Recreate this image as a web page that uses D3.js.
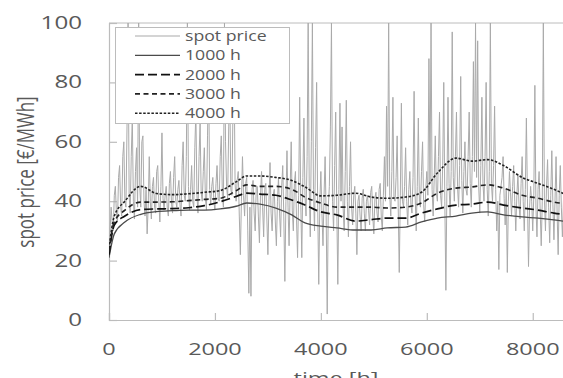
<!DOCTYPE html>
<html>
<head>
<meta charset="utf-8">
<script src="https://cdn.jsdelivr.net/npm/d3@7"></script>
<style>
  body { margin: 0; background: #fff; }
  svg { display: block; font-family: "Open Sans", sans-serif; }
</style>
</head>
<body>
<svg id="chart" width="563" height="378"></svg>
<script>
// hourly spot price, read every 20 h off the picture
const spotStep = 20;
const spotPrice = [
  22, 30, 38, 33, 30, 42, 45, 36, 33, 48, 52, 38, 35, 55, 60, 40, 38, 65, 100, 42,
  36, 55, 68, 40, 34, 50, 58, 38, 100, 45, 38, 60, 62, 40, 35, 44, 29, 38, 55, 40,
  34, 45, 48, 38, 36, 50, 52, 40, 33, 45, 63, 41, 37, 42, 45, 38, 35, 46, 50, 39,
  36, 48, 55, 40, 38, 44, 47, 39, 35, 52, 60, 42, 40, 55, 100, 45, 37, 44, 52, 40,
  38, 58, 70, 42, 36, 55, 66, 43, 40, 50, 58, 41, 37, 62, 85, 44, 39, 45, 48, 40,
  37, 46, 52, 41, 40, 55, 62, 42, 38, 100, 60, 45, 41, 65, 78, 44, 42, 70, 90, 46,
  40, 47, 50, 35, 22, 40, 55, 42, 35, 46, 48, 30, 9, 38, 8, 44, 47, 36, 30, 45,
  45, 35, 26, 42, 50, 38, 28, 44, 46, 34, 22, 40, 53, 36, 30, 42, 44, 33, 25, 40,
  48, 36, 28, 45, 52, 35, 13, 40, 57, 38, 25, 44, 60, 37, 30, 46, 50, 34, 21, 42,
  75, 40, 21, 48, 68, 42, 35, 55, 100, 45, 28, 60, 100, 44, 30, 58, 80, 38, 12, 40,
  50, 36, 25, 42, 55, 35, 2, 38, 45, 65, 100, 40, 30, 52, 70, 38, 12, 44, 73, 40,
  65, 38, 30, 50, 74, 40, 28, 45, 60, 38, 32, 42, 45, 36, 22, 40, 42, 35, 30, 41,
  44, 36, 30, 40, 42, 37, 32, 43, 45, 35, 29, 41, 43, 36, 33, 44, 46, 35, 30, 42,
  55, 40, 72, 45, 100, 42, 35, 50, 75, 41, 40, 48, 62, 38, 16, 42, 73, 40, 38, 45,
  58, 40, 32, 44, 50, 39, 36, 48, 77, 42, 30, 45, 68, 40, 38, 50, 60, 39, 33, 44,
  50, 42, 88, 46, 100, 44, 35, 48, 62, 43, 40, 55, 70, 42, 38, 52, 80, 40, 10, 45,
  75, 46, 35, 50, 97, 48, 40, 55, 70, 45, 38, 52, 82, 47, 36, 50, 60, 44, 42, 55,
  70, 46, 38, 55, 87, 50, 100, 48, 94, 45, 36, 52, 75, 46, 40, 55, 80, 44, 35, 50,
  100, 46, 40, 52, 72, 44, 30, 40, 17, 42, 45, 48, 55, 41, 32, 44, 16, 40, 50, 43,
  35, 45, 52, 40, 30, 42, 49, 39, 34, 46, 55, 40, 30, 44, 68, 41, 18, 38, 45, 40,
  30, 42, 79, 38, 28, 44, 50, 37, 25, 40, 100, 41, 30, 45, 54, 38, 26, 42, 57, 39,
  27, 40, 55, 36, 22, 42, 52, 38, 28, 40, 50, 37, 25, 38, 45, 36, 30, 40, 42, 35, 40
];

// moving averages
const smoothHours = [0, 100, 300, 600, 900, 1200, 1500, 1800, 2100, 2400, 2600, 2850, 3150, 3450, 3700, 4000,
  4300, 4650, 4950, 5250, 5600, 5900, 6200, 6550, 6850, 7150, 7450, 7800, 8100, 8400, 8760];
const avg1000 = [21, 29, 33, 35.6, 36.5, 36.8, 37, 37, 37.4, 38.3, 39.4, 39, 37.7, 35.4, 32.7, 31.6,
  31, 30.3, 30.3, 31, 31.3, 33, 34.3, 35, 36, 36.4, 35.4, 34.7, 34.3, 33.7, 32.8];
const avg2000 = [22, 32, 35, 37.2, 37.4, 37.5, 37.8, 38.5, 39.8, 41.6, 42.7, 42.4, 42, 40.4, 38.7, 36.4,
  35.4, 33.3, 33.8, 34.3, 34.3, 36, 37.4, 38.7, 39, 39.7, 38.7, 37.7, 37, 36, 35.3];
const avg3000 = [23, 33, 37, 39.7, 39.7, 39.8, 40.2, 40.6, 41, 43.5, 45.5, 45, 45, 44, 41.4, 39.4,
  38, 38, 38, 37.7, 38, 39.4, 42.7, 44.4, 44.8, 45.5, 44.4, 42, 41, 39.7, 39];
const avg4000 = [24, 35, 40, 45, 42.6, 42.2, 42.5, 43, 43.6, 46.5, 48.5, 48.5, 48, 47, 44.8, 41.8,
  42, 42.7, 41.4, 41, 41.4, 43, 49.5, 54.5, 53.5, 54, 52, 48, 46, 44, 41];

const seriesNames = ["spot price", "1000 h", "2000 h", "3000 h", "4000 h"];
const xTicks = [0, 2000, 4000, 6000, 8000];
const yTicks = [0, 20, 40, 60, 80, 100];

const svg = d3.select("#chart");
const stretch = 1.38;   // the picture is a little wider than tall
const axisColor = "#bcbcbc";
const textColor = "#595959";

const x = d3.scaleLinear().domain([0, 8760]).range([109, 573]);
const y = d3.scaleLinear().domain([0, 100]).range([320, 23]);

const styles = [
  { color: "#aaaaaa", width: 1, dash: null },
  { color: "#4a4a4a", width: 1.3, dash: null },
  { color: "#111", width: 1.7, dash: "9,4" },
  { color: "#222", width: 1.6, dash: "5,3.5" },
  { color: "#222", width: 1.6, dash: "2.5,1.6" }
];

// frame
svg.append("line")
  .attr("x1", 109).attr("x2", 563).attr("y1", 23).attr("y2", 23)
  .attr("stroke", axisColor);

const gy = svg.append("g").attr("transform", "translate(109,0)")
  .call(d3.axisLeft(y).tickValues(yTicks).tickSize(-8).tickFormat(""));
const gx = svg.append("g").attr("transform", "translate(0,320)")
  .call(d3.axisBottom(x).tickValues(xTicks).tickSize(-7).tickFormat(""));
gy.selectAll("path, line").attr("stroke", axisColor).attr("stroke-width", 1.2);
gx.selectAll("path, line").attr("stroke", axisColor).attr("stroke-width", 1.2);

svg.selectAll(".ylab").data(yTicks).join("text")
  .attr("transform", d => `translate(82,${y(d) + 6}) scale(${stretch},1)`)
  .attr("text-anchor", "end")
  .attr("font-size", 17.5)
  .attr("fill", textColor)
  .text(d => d);

svg.selectAll(".xlab").data(xTicks).join("text")
  .attr("transform", d => `translate(${x(d)},${355}) scale(${stretch},1)`)
  .attr("text-anchor", "middle")
  .attr("font-size", 17)
  .attr("fill", textColor)
  .text(d => d);

svg.append("text")
  .attr("transform", `translate(34,172) rotate(-90) scale(1,${stretch})`)
  .attr("text-anchor", "middle")
  .attr("font-size", 17)
  .attr("fill", textColor)
  .text("spot price [€/MWh]");

// cut off by the bottom edge, as in the original
svg.append("text")
  .attr("transform", `translate(336,384) scale(${stretch},1)`)
  .attr("text-anchor", "middle")
  .attr("font-size", 17)
  .attr("fill", textColor)
  .text("time [h]");

// data
svg.append("clipPath").attr("id", "plot")
  .append("rect").attr("x", 109).attr("y", 23).attr("width", 470).attr("height", 297);

const plot = svg.append("g").attr("clip-path", "url(#plot)");

plot.append("path")
  .datum(spotPrice)
  .attr("fill", "none")
  .attr("stroke", styles[0].color)
  .attr("stroke-width", styles[0].width)
  .attr("d", d3.line().x((d, i) => x(i * spotStep)).y(d => y(d)));

const avgs = [avg1000, avg2000, avg3000, avg4000];
const smoothLine = d3.line()
  .x((d, i) => x(smoothHours[i]))
  .y(d => y(d))
  .curve(d3.curveMonotoneX);

avgs.forEach((vals, k) => {
  const s = styles[k + 1];
  plot.append("path")
    .datum(vals)
    .attr("fill", "none")
    .attr("stroke", s.color)
    .attr("stroke-width", s.width)
    .attr("stroke-dasharray", s.dash)
    .attr("d", smoothLine);
});

// legend
const legend = svg.append("g");
legend.append("rect")
  .attr("x", 115.5).attr("y", 27.5).attr("width", 174).attr("height", 96)
  .attr("fill", "#fff").attr("stroke", axisColor);

seriesNames.forEach((name, i) => {
  const ly = 36 + i * 19.3;
  const s = styles[i];
  legend.append("line")
    .attr("x1", 135).attr("x2", 180).attr("y1", ly).attr("y2", ly)
    .attr("stroke", s.color)
    .attr("stroke-width", i === 0 ? 1.2 : s.width)
    .attr("stroke-dasharray", s.dash);
  legend.append("text")
    .attr("transform", `translate(185,${ly + 5}) scale(1.22,1)`)
    .attr("font-size", 14.5)
    .attr("fill", textColor)
    .text(name);
});
</script>
</body>
</html>
